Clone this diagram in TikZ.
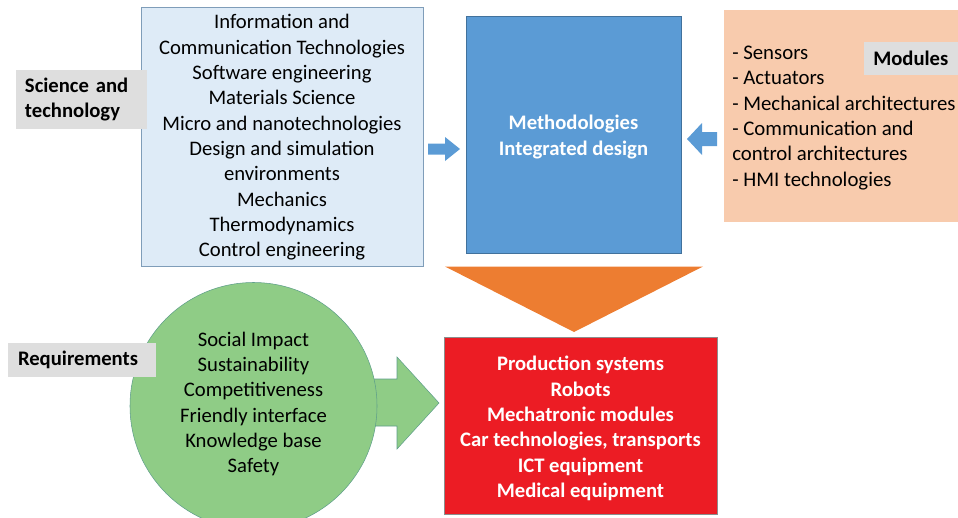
\documentclass[tikz,border=0pt]{standalone}
\usepackage{fontspec}
\setmainfont{Carlito}
\usetikzlibrary{positioning}
\definecolor{scifill}{HTML}{DEEBF7}
\definecolor{sciedge}{HTML}{7F9DB9}
\definecolor{methfill}{HTML}{5B9BD5}
\definecolor{methedge}{HTML}{41719C}
\definecolor{modfill}{HTML}{F8CBAD}
\definecolor{tagfill}{HTML}{DEDEDE}
\definecolor{flowfill}{HTML}{ED7D31}
\definecolor{prodfill}{HTML}{EC1C24}
\definecolor{prodedge}{HTML}{8C8C8C}
\definecolor{reqfill}{HTML}{8FCC86}
\definecolor{reqedge}{HTML}{5E9E8A}
\tikzset{
	txt/.style={font=\fontsize{15.5}{19}\selectfont},
	panel/.style={txt, inner sep=0pt, align=center},
	boldtxt/.style={panel, text=white, font=\bfseries\fontsize{15.5}{19}\selectfont},
	tag/.style={txt, fill=tagfill, inner ysep=0pt, align=left, font=\bfseries\fontsize{15.5}{19}\selectfont},
}

\begin{document}
\begin{tikzpicture}[x=0.75pt, y=-0.75pt]
		%%%%% START %%%%%
		\useasboundingbox (0, 0) rectangle (958, 518);
		\clip (0, 0) rectangle (958, 518);
		
		\node[panel, draw=sciedge, fill=scifill, minimum width=211.5pt, minimum height=194.25pt] (sci) at (282, 136.5) {};
		\node[panel] (scilist) at (282, 137.5)
		{Information and\\Communication Technologies\\Software engineering\\Materials Science\\Micro and nanotechnologies\\Design and simulation\\environments\\Mechanics\\Thermodynamics\\Control engineering};
		\node[tag, inner xsep=6.75pt, text width=84.75pt, minimum height=44.25pt] (scitag) at (81.5, 99.5) {Science and\\technology};
		
		\fill[methfill] (428, 143.5) -- (445, 143.5) -- (445, 137) -- (460, 149) -- (445, 161) -- (445, 154.5) -- (428, 154.5) -- cycle;
		
		\node[panel, draw=methedge, fill=methfill, minimum width=161.25pt, minimum height=177.75pt] (meth) at (573.5, 134.5) {};
		\node[boldtxt] (methtext) at (573.5, 137) {Methodologies\\Integrated design};
		
		\fill[methfill] (717, 132) -- (702, 132) -- (702, 123) -- (687, 139) -- (702, 155) -- (702, 146) -- (717, 146) -- cycle;
		
		\node[fill=modfill, inner sep=0pt, minimum width=175.5pt, minimum height=159pt] (mod) at (841, 116) {};
		\node[anchor=west, align=left, inner sep=0pt, font=\fontsize{15.6}{19}\selectfont] (modlist) at (732, 118)
		{- Sensors\\- Actuators\\- Mechanical architectures\\- Communication and\\control architectures\\- HMI technologies};
		\node[tag, anchor=west, inner xsep=6.75pt, text width=58pt, minimum height=24.75pt] (modtag) at (864, 58.5) {Modules};
		
		\fill[flowfill] (445, 266.5) -- (703, 266.5) -- (574, 332) -- cycle;
		
		\draw[reqedge, fill=reqfill] (365, 379) -- (397, 379) -- (397, 357) -- (439, 403) -- (397, 449) -- (397, 426) -- (365, 426) -- cycle;
		\node[panel, circle, draw=reqedge, fill=reqfill, minimum size=185.25pt] (req) at (253.5, 406) {};
		\node[panel] (reqlist) at (253.5, 404) {Social Impact\\Sustainability\\Competitiveness\\Friendly interface\\Knowledge base\\Safety};
		\node[tag, inner xsep=7.5pt, text width=96pt, minimum height=25.5pt] (reqtag) at (82, 360) {Requirements};
		
		\node[panel, draw=prodedge, fill=prodfill, minimum width=204.75pt, minimum height=132.75pt] (prod) at (580.5, 425.5) {};
		\node[boldtxt] (prodlist) at (580.5, 428.5)
		{Production systems\\Robots\\Mechatronic modules\\Car technologies, transports\\ICT equipment\\Medical equipment};
		
		%%%%% END %%%%%
	\end{tikzpicture}
\end{document}
